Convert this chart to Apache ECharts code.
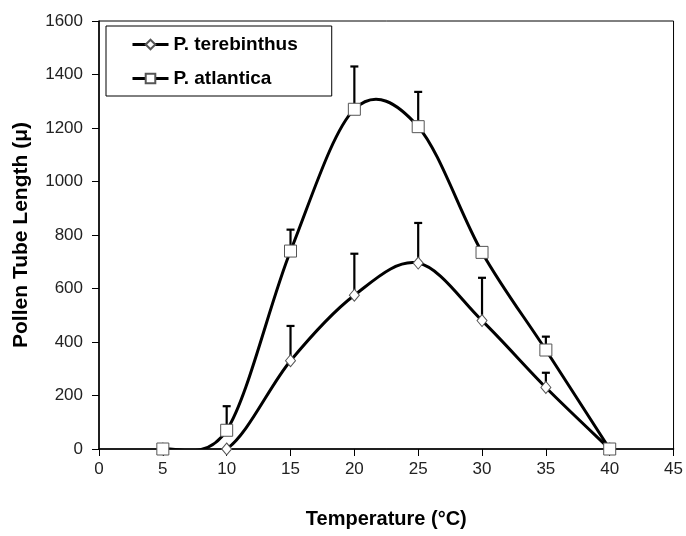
<!DOCTYPE html>
<html>
<head>
<meta charset="utf-8">
<script src="https://cdn.jsdelivr.net/npm/echarts@6/dist/echarts.min.js"></script>
<style>
html,body{margin:0;padding:0;background:#fff;}
#chart{width:686px;height:536px;}
</style>
</head>
<body>
<div id="chart"></div>
<script>
const temperatures = [5, 10, 15, 20, 25, 30, 35, 40];
const terebinthus = [0, 0, 330, 575, 695, 480, 230, 0];
const terebinthusErr = [null, null, 130, 155, 150, 160, 55, null];
const atlantica = [0, 70, 740, 1270, 1205, 735, 370, 0];
const atlanticaErr = [null, 90, 80, 160, 130, null, 50, null];
const xTicks = [0, 45, 5];
const yTicks = [0, 1600, 200];

const FONT = 'Arial, "Liberation Sans", sans-serif';

function pairs(vals) { return temperatures.map((t, i) => [t, vals[i]]); }
function errData(vals, errs) {
  const out = [];
  temperatures.forEach((t, i) => { if (errs[i] != null) out.push([t, vals[i], vals[i] + errs[i]]); });
  return out;
}
function renderErr(params, api) {
  const p0 = api.coord([api.value(0), api.value(1)]);
  const p1 = api.coord([api.value(0), api.value(2)]);
  return {
    type: 'group',
    children: [
      { type: 'line', shape: { x1: p0[0], y1: p0[1], x2: p1[0], y2: p1[1] }, style: { stroke: '#000', lineWidth: 2.2 } },
      { type: 'line', shape: { x1: p1[0] - 4, y1: p1[1], x2: p1[0] + 4, y2: p1[1] }, style: { stroke: '#000', lineWidth: 2.2 } }
    ]
  };
}
// Excel-style smoothed segment between data point i and i+1 (control points from neighbours)
function makeCurveRenderer(vals) {
  return function (params, api) {
    const i = params.dataIndex;
    const n = temperatures.length;
    if (i >= n - 1) return null;
    const P = k => api.coord([temperatures[Math.max(0, Math.min(n - 1, k))], vals[Math.max(0, Math.min(n - 1, k))]]);
    const p0 = P(i - 1), p1 = P(i), p2 = P(i + 1), p3 = P(i + 2);
    const t = 1 / 6;
    return {
      type: 'bezierCurve',
      shape: {
        x1: p1[0], y1: p1[1], x2: p2[0], y2: p2[1],
        cpx1: p1[0] + (p2[0] - p0[0]) * t, cpy1: p1[1] + (p2[1] - p0[1]) * t,
        cpx2: p2[0] - (p3[0] - p1[0]) * t, cpy2: p2[1] - (p3[1] - p1[1]) * t
      },
      style: { stroke: '#000', lineWidth: 3, fill: null, lineJoin: 'round', lineCap: 'round' }
    };
  };
}

const chart = echarts.init(document.getElementById('chart'), null, { renderer: 'canvas' });
chart.setOption({
  animation: false,
  backgroundColor: '#fff',
  grid: { left: 99, top: 21, width: 578, height: 428, show: true, borderColor: '#000', borderWidth: 1, backgroundColor: 'transparent' },
  legend: {
    orient: 'vertical',
    left: 106, top: 26,
    borderColor: '#000', borderWidth: 1,
    padding: [9, 34, 8, 25],
    itemGap: 15,
    itemWidth: 36, itemHeight: 12,
    lineStyle: { color: '#000', width: 3, opacity: 1 },
    textStyle: { fontFamily: FONT, fontSize: 19, fontWeight: 'bold', color: '#000' },
    data: ['P. terebinthus', 'P. atlantica']
  },
  xAxis: {
    type: 'value', min: xTicks[0], max: xTicks[1], interval: xTicks[2],
    name: 'Temperature (°C)', nameLocation: 'middle', nameGap: 60,
    nameTextStyle: { fontFamily: FONT, fontSize: 20, fontWeight: 'bold', color: '#000' },
    axisLine: { lineStyle: { color: '#000', width: 1.5 } },
    axisTick: { show: true, inside: false, length: 7, lineStyle: { color: '#000' } },
    axisLabel: { fontFamily: FONT, fontSize: 17, color: '#222', margin: 12 },
    splitLine: { show: false }
  },
  yAxis: {
    type: 'value', min: yTicks[0], max: yTicks[1], interval: yTicks[2],
    name: 'Pollen Tube Length (μ)', nameLocation: 'middle', nameGap: 67,
    nameTextStyle: { fontFamily: FONT, fontSize: 21, fontWeight: 'bold', color: '#000' },
    axisLine: { show: true, lineStyle: { color: '#000', width: 1.5 } },
    axisTick: { show: true, inside: false, length: 7, lineStyle: { color: '#000' } },
    axisLabel: { fontFamily: FONT, fontSize: 17, color: '#222', margin: 16, formatter: v => String(v) },
    splitLine: { show: false }
  },
  series: [
    { type: 'custom', name: 'err1', renderItem: renderErr, data: errData(terebinthus, terebinthusErr), z: 1, encode: { x: 0, y: [1, 2] }, silent: true },
    { type: 'custom', name: 'err2', renderItem: renderErr, data: errData(atlantica, atlanticaErr), z: 1, encode: { x: 0, y: [1, 2] }, silent: true },
    { type: 'custom', name: 'curve1', renderItem: makeCurveRenderer(terebinthus), data: pairs(terebinthus), z: 2, encode: { x: 0, y: 1 }, silent: true, clip: true },
    { type: 'custom', name: 'curve2', renderItem: makeCurveRenderer(atlantica), data: pairs(atlantica), z: 2, encode: { x: 0, y: 1 }, silent: true, clip: true },
    {
      type: 'line', name: 'P. terebinthus', data: pairs(terebinthus), z: 3,
      symbol: 'diamond', symbolSize: [10, 12], showAllSymbol: true,
      lineStyle: { color: '#000', width: 3, opacity: 0 },
      itemStyle: { color: '#fff', borderColor: '#555', borderWidth: 1 }
    },
    {
      type: 'line', name: 'P. atlantica', data: pairs(atlantica), z: 3,
      symbol: 'rect', symbolSize: 12, showAllSymbol: true,
      lineStyle: { color: '#000', width: 3, opacity: 0 },
      itemStyle: { color: '#fff', borderColor: '#555', borderWidth: 1 }
    }
  ]
});
</script>
</body>
</html>
